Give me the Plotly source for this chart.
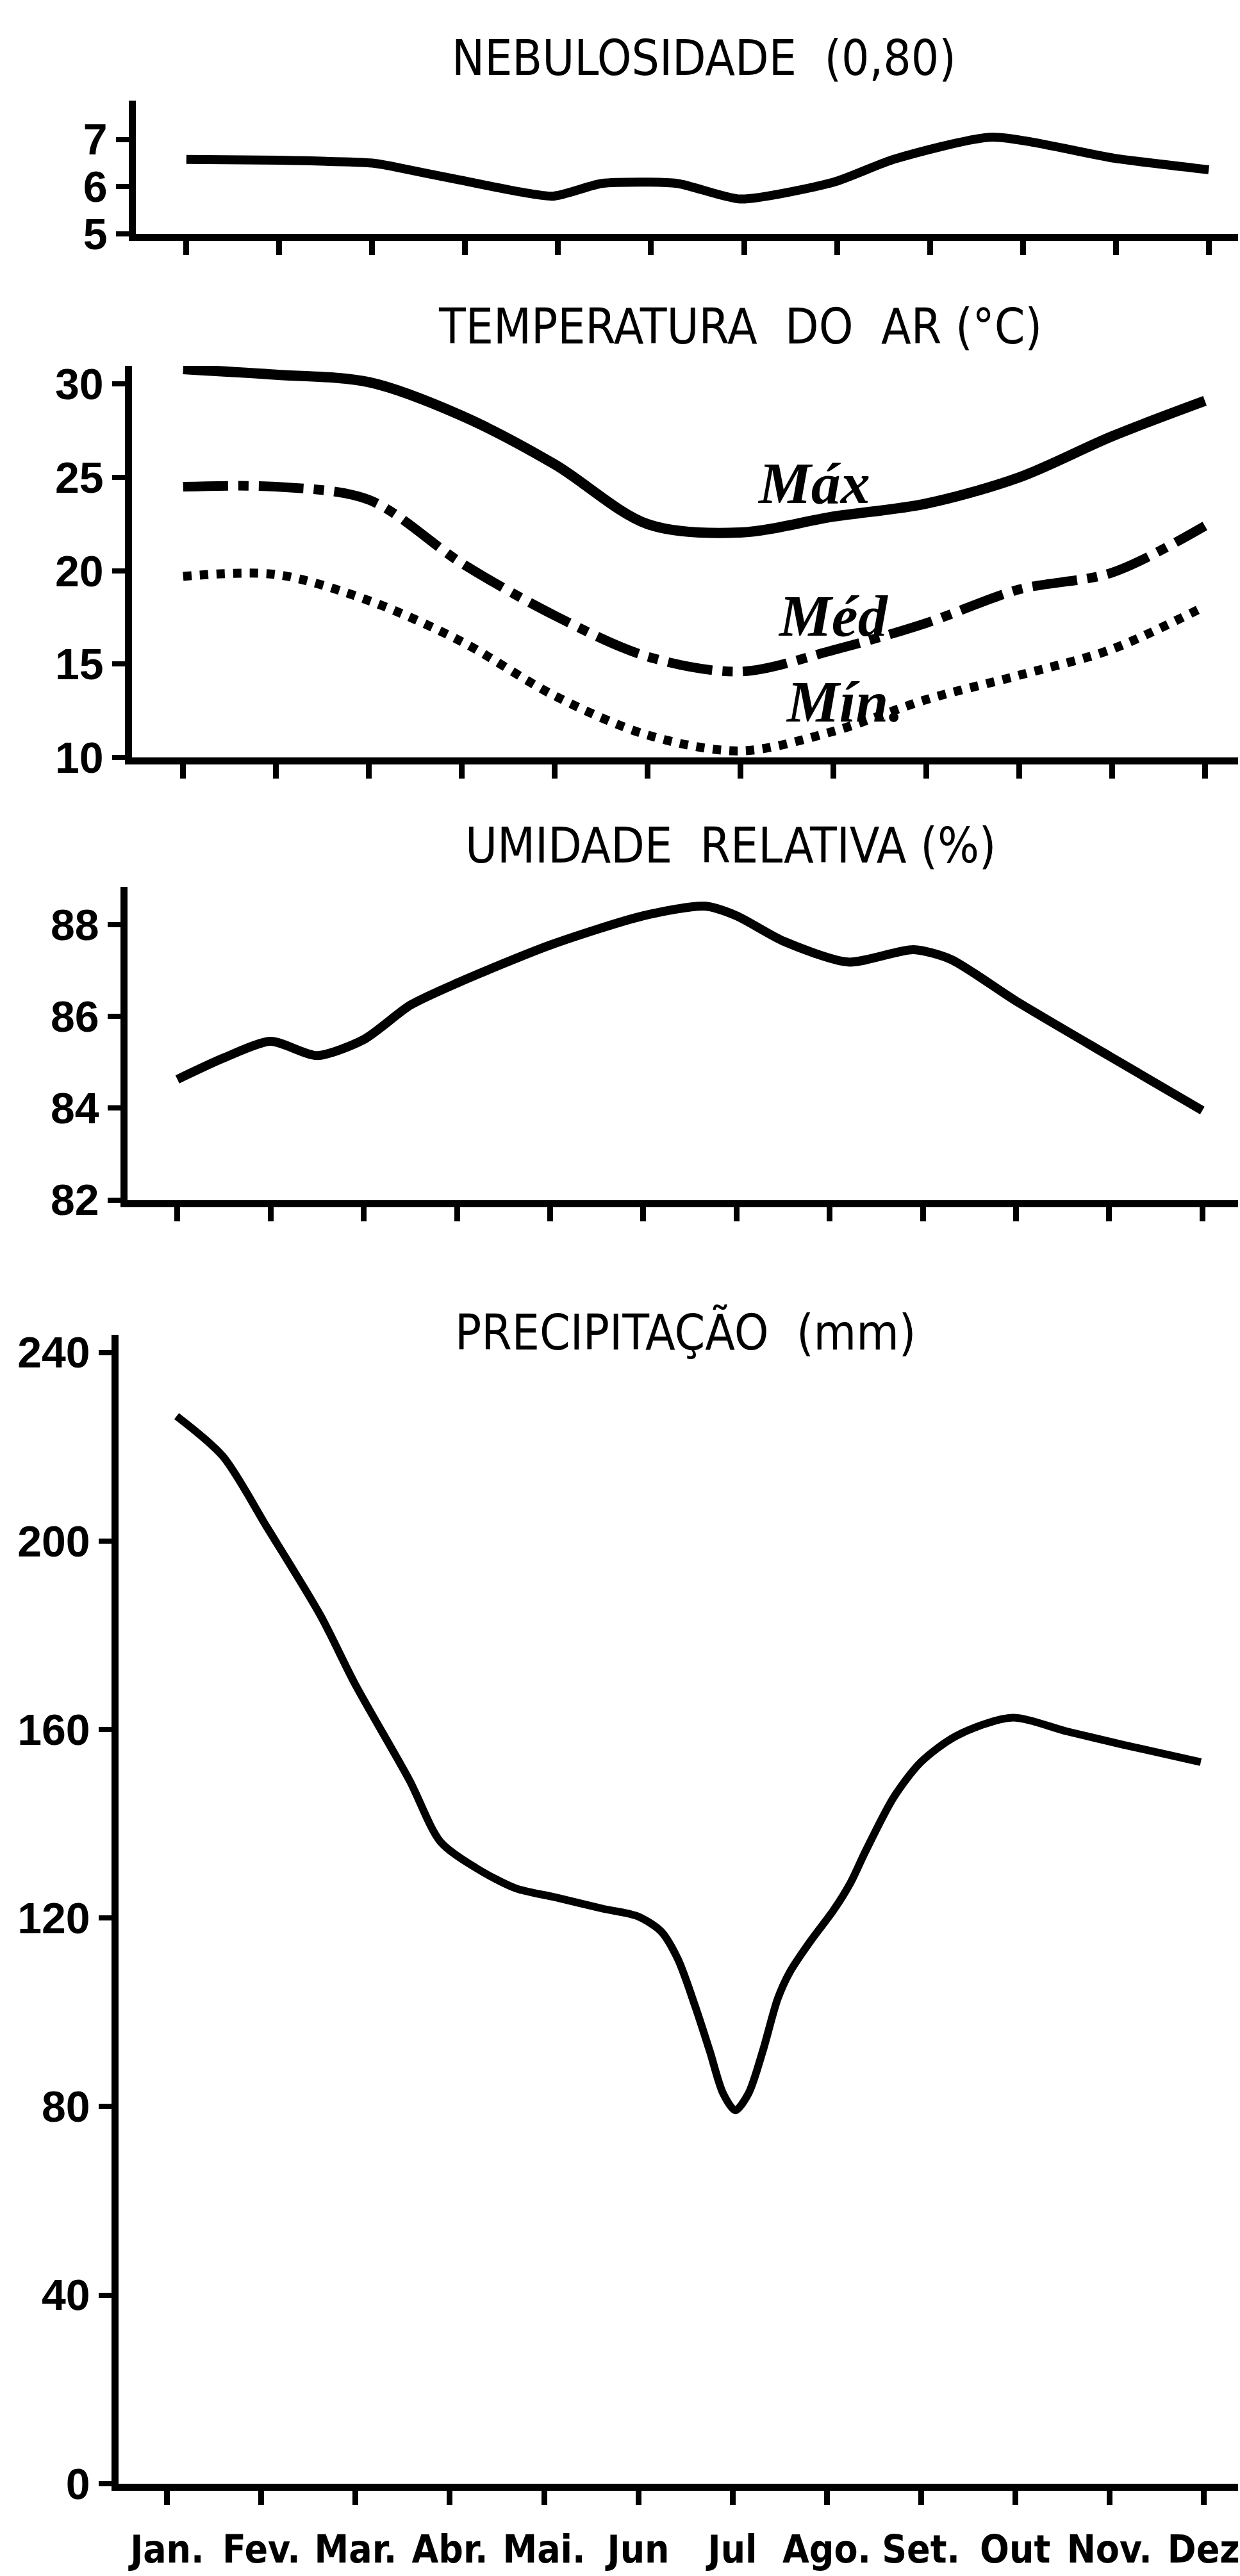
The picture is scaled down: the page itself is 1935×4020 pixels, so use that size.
import plotly.graph_objects as go

W, H = 1935, 4020

# ---------------- data ----------------
months = ["Jan.", "Fev.", "Mar.", "Abr.", "Mai.", "Jun", "Jul", "Ago.", "Set.", "Out", "Nov.", "Dez"]
month_pos = list(range(12))

# Nebulosidade (0,80) - position in months (0 = Jan) and value
neb_x = [0, 1, 2, 2.19, 2.95, 3.94, 4.47, 5.28, 5.96, 6.97, 7.61, 8.67, 9.99, 11]
neb_y = [6.58, 6.56, 6.5, 6.44, 6.14, 5.8, 6.07, 6.07, 5.74, 6.10, 6.58, 7.05, 6.6, 6.36]

# Temperatura do ar (°C)
temp_x = month_pos
t_max = [30.8, 30.5, 30.1, 28.3, 25.7, 22.5, 22.05, 22.9, 23.6, 25.0, 27.2, 29.1]
t_med = [24.5, 24.5, 23.8, 20.4, 17.6, 15.4, 14.6, 15.75, 17.2, 19.0, 19.9, 22.4]
t_min = [19.7, 19.8, 18.4, 16.2, 13.3, 11.2, 10.35, 11.4, 13.1, 14.4, 15.8, 18.1]

# Umidade relativa (%)
hum_x = [0, 0.5, 1, 1.5, 2, 2.5, 3, 4, 5, 5.66, 6, 6.5, 7.2, 7.9, 8.3, 9, 10, 11]
hum_y = [84.63, 85.1, 85.46, 85.15, 85.5, 86.25, 86.73, 87.56, 88.2, 88.41, 88.2, 87.65,
         87.19, 87.46, 87.25, 86.34, 85.14, 83.95]

# Precipitação (mm)
prec_x = [0.1, 0.59, 1.06, 1.63, 1.99, 2.57, 2.9, 3.28, 3.7, 4.12, 4.62, 4.99, 5.24, 5.42,
          5.6, 5.76, 5.9, 6.03, 6.17, 6.32, 6.48, 6.61, 6.82, 7.07, 7.25, 7.41, 7.71, 8.0,
          8.38, 8.96, 9.55, 10.14, 10.97]
prec_y = [226.5, 218, 202.9, 184.1, 169.8, 149.3, 136.2, 130.6, 126.3, 124.4, 122, 120.4,
          117.2, 111.3, 101.5, 91.7, 82.8, 79.2, 82.8, 91.7, 102.9, 108.6, 114.9, 121.6,
          127.4, 134.1, 145.6, 153.1, 158.7, 162.5, 159.6, 156.8, 153.1]

neb_ticks = [5, 6, 7]
temp_ticks = [10, 15, 20, 25, 30]
hum_ticks = [82, 84, 86, 88]
prec_ticks = [0, 40, 80, 120, 160, 200, 240]

titles = ["NEBULOSIDADE\u00a0\u00a0(0,80)", "TEMPERATURA\u00a0\u00a0DO\u00a0\u00a0AR\u00a0(°C)",
          "UMIDADE\u00a0\u00a0RELATIVA\u00a0(%)", "PRECIPITAÇÃO\u00a0\u00a0(mm)"]
curve_labels = ["Máx", "Méd", "Mín."]

# ---------------- layout geometry (pixels) ----------------
panels = [
    dict(ax=207, top=148, bot=364, jan=286, dez=1889, yr=[5, 7.82], ticks=neb_ticks,
         title_xy=(1100, 80)),
    dict(ax=201, top=567, bot=1191, jan=281, dez=1883, yr=[10, 30.97], ticks=temp_ticks,
         title_xy=(1157, 505)),
    dict(ax=194, top=1390, bot=1890, jan=272, dez=1879, yr=[82, 88.83], ticks=hum_ticks,
         title_xy=(1142, 1325)),
    dict(ax=180, top=2098, bot=3918, jan=256, dez=1881, yr=[0, 243.7], ticks=prec_ticks,
         title_xy=(1071, 2094)),
]

TICK_FONT = dict(family="Liberation Sans, Arial, sans-serif", size=68, color="black", weight="bold")
MONTH_FONT = dict(family="DejaVu Sans Condensed, DejaVu Sans, sans-serif", size=60,
                  color="black", weight="bold")
TITLE_FONT = dict(family="DejaVu Sans Condensed, DejaVu Sans, sans-serif", size=76,
                  color="black")
SCRIPT_FONT = dict(family="Liberation Serif, DejaVu Serif, serif", size=92, color="black",
                   style="italic", weight="bold")

fig = go.Figure()

LW_AX = 11
layout = dict(width=W, height=H, margin=dict(l=0, r=0, t=0, b=0),
              paper_bgcolor="white", plot_bgcolor="white", showlegend=False)

for i, p in enumerate(panels, start=1):
    sp = (p["dez"] - p["jan"]) / 11.0
    xr = [-(p["jan"] - p["ax"]) / sp, 11 + (W - p["dez"]) / sp]
    xa = dict(domain=[(p["ax"] + LW_AX / 2) / W, 1.0], range=xr, anchor="y%d" % i if i > 1 else "y",
              showline=True, linewidth=LW_AX, linecolor="black", showgrid=False, zeroline=False,
              ticks="outside", ticklen=22, tickwidth=9, tickcolor="black",
              tickvals=month_pos, ticktext=months, showticklabels=(i == 4),
              tickfont=MONTH_FONT, ticklabeloverflow="allow", ticklabelstandoff=18,
              fixedrange=True)
    ya = dict(domain=[1 - (p["bot"] - LW_AX / 2) / H, 1 - p["top"] / H], range=p["yr"],
              anchor="x%d" % i if i > 1 else "x",
              showline=True, linewidth=LW_AX, linecolor="black", showgrid=False, zeroline=False,
              ticks="outside", ticklen=20, tickwidth=8, tickcolor="black",
              tickvals=p["ticks"], tickfont=TICK_FONT, fixedrange=True)
    layout["xaxis" if i == 1 else "xaxis%d" % i] = xa
    layout["yaxis" if i == 1 else "yaxis%d" % i] = ya

fig.update_layout(**layout)

# traces
fig.add_trace(go.Scatter(x=neb_x, y=neb_y, mode="lines", xaxis="x", yaxis="y",
                         line=dict(color="black", width=14, shape="spline", smoothing=0.6)))
fig.add_trace(go.Scatter(x=temp_x, y=t_max, mode="lines", xaxis="x2", yaxis="y2",
                         line=dict(color="black", width=16, shape="spline", smoothing=0.9)))
fig.add_trace(go.Scatter(x=temp_x, y=t_med, mode="lines", xaxis="x2", yaxis="y2",
                         line=dict(color="black", width=15, shape="spline", smoothing=0.9,
                                   dash="70px,16px,16px,16px")))
fig.add_trace(go.Scatter(x=temp_x, y=t_min, mode="lines", xaxis="x2", yaxis="y2",
                         line=dict(color="black", width=14, shape="spline", smoothing=0.9,
                                   dash="13px,13px")))
fig.add_trace(go.Scatter(x=hum_x, y=hum_y, mode="lines", xaxis="x3", yaxis="y3",
                         line=dict(color="black", width=14, shape="spline", smoothing=0.7)))
fig.add_trace(go.Scatter(x=prec_x, y=prec_y, mode="lines", xaxis="x4", yaxis="y4",
                         line=dict(color="black", width=12, shape="spline", smoothing=0.8)))

# titles
for p, t in zip(panels, titles):
    fig.add_annotation(text=t, xref="paper", yref="paper", x=p["title_xy"][0] / W,
                       y=1 - p["title_xy"][1] / H, xanchor="center", yanchor="middle",
                       showarrow=False, font=TITLE_FONT)

# curve labels in temperature panel (data coords)
label_pos = [(6.79, 24.7), (7.0, 17.6), (7.12, 13.0)]
for (lx, ly), txt in zip(label_pos, curve_labels):
    fig.add_annotation(text=txt, xref="x2", yref="y2", x=lx, y=ly, showarrow=False,
                       xanchor="center", yanchor="middle", font=SCRIPT_FONT)

fig.write_html("out.html")
